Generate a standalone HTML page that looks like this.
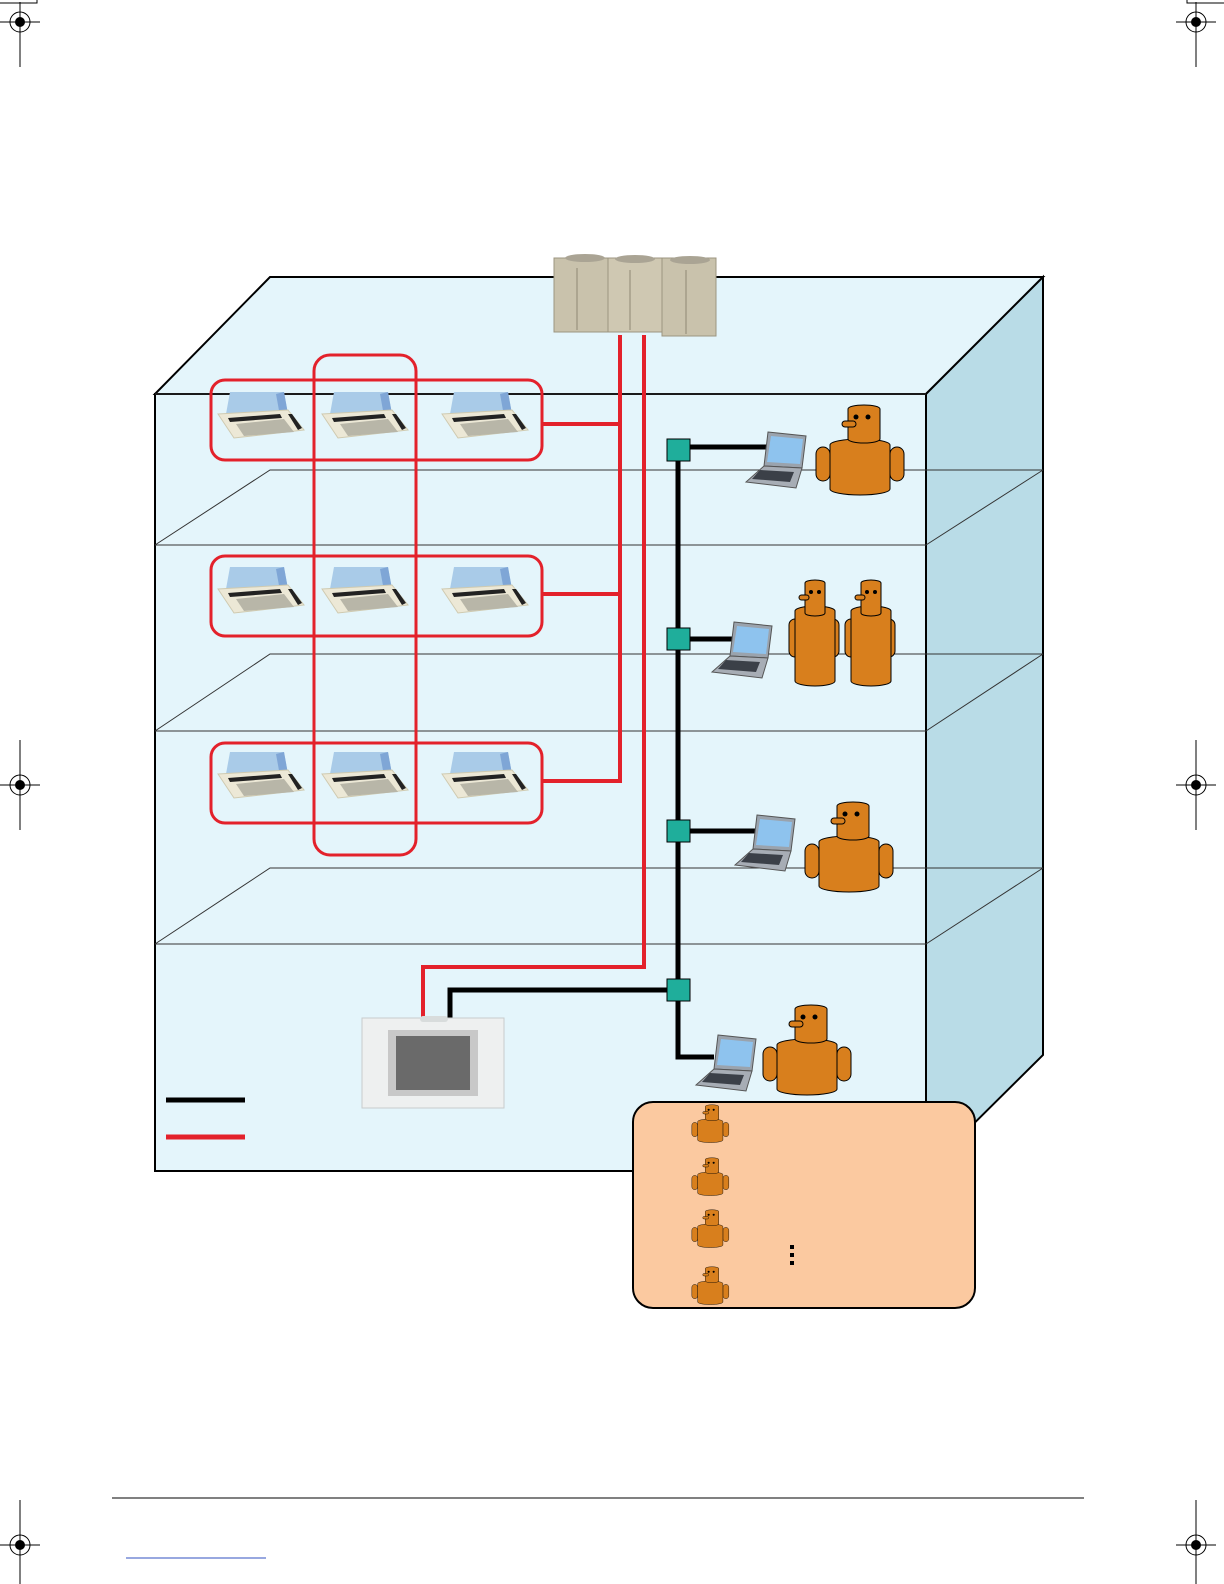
<!DOCTYPE html>
<html><head><meta charset="utf-8"><style>html,body{margin:0;padding:0;background:#fff}svg{display:block}</style></head>
<body>
<svg width="1224" height="1584" viewBox="0 0 1224 1584" xmlns="http://www.w3.org/2000/svg">
<defs>
<g id="reg"><circle r="10" fill="none" stroke="#000" stroke-width="1"/><circle r="5" fill="#000"/><line x1="-20" y1="0" x2="20" y2="0" stroke="#000" stroke-width="1"/><line x1="0" y1="-20" x2="0" y2="45" stroke="#000" stroke-width="1"/></g>
<g id="reg2"><circle r="10" fill="none" stroke="#000" stroke-width="1"/><circle r="5" fill="#000"/><line x1="-20" y1="0" x2="20" y2="0" stroke="#000" stroke-width="1"/><line x1="0" y1="-45" x2="0" y2="45" stroke="#000" stroke-width="1"/></g>
<g id="ac">
<polygon points="12,0 66,0 70,22 8,22" fill="#a9cbe8"/>
<polygon points="58,2 66,0 70,22 62,24" fill="#7fa6d6"/>
<polygon points="0,22 70,18 86,38 16,46" fill="#ece8d6" stroke="#cfcab0" stroke-width="1"/>
<polygon points="10,26 62,22 64,26 12,30" fill="#222"/>
<polygon points="70,22 74,22 84,36 80,38" fill="#222"/>
<polygon points="18,32 66,27 76,40 26,44" fill="#b8b6a8"/>
</g>
<g id="lap">
<polygon points="22,0 60,4 56,36 18,34" fill="#9aa3ad" stroke="#555" stroke-width="1"/>
<polygon points="25,4 57,7 54,32 21,30" fill="#8ec3ee"/>
<polygon points="18,34 56,36 50,56 0,50" fill="#a7adb5" stroke="#555" stroke-width="1"/>
<polygon points="14,38 48,40 44,50 6,47" fill="#3b4048"/>
</g>
<g id="man">
<rect x="-48" y="20" width="14" height="34" rx="7" fill="#d87f1d" stroke="#000" stroke-width="1"/>
<rect x="26" y="20" width="14" height="34" rx="7" fill="#d87f1d" stroke="#000" stroke-width="1"/>
<path d="M-34,18 a30,6 0 0 1 60,0 v44 a30,6 0 0 1 -60,0 z" fill="#d87f1d" stroke="#000" stroke-width="1"/>
<path d="M-16,-18 a16,4 0 0 1 32,0 v30 a16,4 0 0 1 -32,0 z" fill="#d87f1d" stroke="#000" stroke-width="1"/>
<rect x="-22" y="-6" width="14" height="6" rx="3" fill="#d87f1d" stroke="#000" stroke-width="1"/>
<circle cx="-8" cy="-10" r="2.5"/><circle cx="4" cy="-10" r="2.5"/>
</g>
<g id="tall">
<rect x="-26" y="24" width="12" height="38" rx="6" fill="#d87f1d" stroke="#000" stroke-width="1"/>
<rect x="12" y="24" width="12" height="38" rx="6" fill="#d87f1d" stroke="#000" stroke-width="1"/>
<path d="M-20,16 a20,5 0 0 1 40,0 v70 a20,5 0 0 1 -40,0 z" fill="#d87f1d" stroke="#000" stroke-width="1"/>
<path d="M-10,-12 a10,3 0 0 1 20,0 v30 a10,3 0 0 1 -20,0 z" fill="#d87f1d" stroke="#000" stroke-width="1"/>
<rect x="-16" y="0" width="10" height="5" rx="2.5" fill="#d87f1d" stroke="#000" stroke-width="1"/>
<circle cx="-4" cy="-3" r="2"/><circle cx="4" cy="-3" r="2"/>
</g>
</defs>

<path d="M0,3 H37 V0" fill="none" stroke="#000"/>
<path d="M1224,3 H1187 V0" fill="none" stroke="#000"/>
<use href="#reg" x="20" y="22"/><use href="#reg" x="1196" y="22"/>
<use href="#reg2" x="20" y="785"/><use href="#reg2" x="1196" y="785"/>
<g transform="translate(20,1545)"><circle r="10" fill="none" stroke="#000"/><circle r="5"/><line x1="-20" y1="0" x2="20" y2="0" stroke="#000"/><line x1="0" y1="-45" x2="0" y2="39" stroke="#000"/></g>
<g transform="translate(1196,1545)"><circle r="10" fill="none" stroke="#000"/><circle r="5"/><line x1="-20" y1="0" x2="20" y2="0" stroke="#000"/><line x1="0" y1="-45" x2="0" y2="39" stroke="#000"/></g>
<line x1="112" y1="1498" x2="1084" y2="1498" stroke="#000" stroke-width="1"/>
<line x1="126" y1="1558" x2="266" y2="1558" stroke="#3050c0" stroke-width="1"/>

<polygon points="155,394 270,277 1043,277 926,394" fill="#e4f5fb" stroke="#000" stroke-width="2"/>
<polygon points="926,394 1043,277 1043,1055 926,1171" fill="#b9dce7" stroke="#000" stroke-width="2"/>
<rect x="155" y="394" width="771" height="777" fill="#e4f5fb" stroke="#000" stroke-width="2"/>
<g stroke="#333" stroke-width="1" fill="none">
<line x1="155" y1="394" x2="926" y2="394"/>
<polyline points="155,545 270,470 1043,470"/><line x1="155" y1="545" x2="926" y2="545"/><line x1="926" y1="545" x2="1043" y2="470"/>
<polyline points="155,731 270,654 1043,654"/><line x1="155" y1="731" x2="926" y2="731"/><line x1="926" y1="731" x2="1043" y2="654"/>
<polyline points="155,944 270,868 1043,868"/><line x1="155" y1="944" x2="926" y2="944"/><line x1="926" y1="944" x2="1043" y2="868"/>
</g>

<g>
<rect x="554" y="258" width="54" height="74" fill="#c9c2ac" stroke="#9c9580"/>
<rect x="608" y="258" width="54" height="74" fill="#cfc8b2" stroke="#9c9580"/>
<rect x="662" y="258" width="54" height="78" fill="#c9c2ac" stroke="#9c9580"/>
<ellipse cx="585" cy="258" rx="20" ry="4" fill="#aaa494"/><ellipse cx="635" cy="259" rx="20" ry="4" fill="#aaa494"/><ellipse cx="690" cy="260" rx="20" ry="4" fill="#aaa494"/>
<g stroke="#8f8874"><line x1="577" y1="268" x2="577" y2="330"/><line x1="630" y1="270" x2="630" y2="330"/><line x1="686" y1="270" x2="686" y2="334"/></g>
</g>

<g fill="none" stroke="#e3212b" stroke-width="3">
<rect x="211" y="380" width="331" height="80" rx="14"/>
<rect x="211" y="556" width="331" height="80" rx="14"/>
<rect x="211" y="743" width="331" height="80" rx="14"/>
<rect x="314" y="355" width="102" height="500" rx="16"/>
</g>
<g fill="none" stroke="#e3212b" stroke-width="4">
<polyline points="542,424 620,424"/><polyline points="542,594 620,594"/><polyline points="542,781 620,781 620,335"/>
<polyline points="644,335 644,967 423,967 423,1018"/>
</g>

<use href="#ac" x="218" y="392"/><use href="#ac" x="322" y="392"/><use href="#ac" x="442" y="392"/>
<use href="#ac" x="218" y="567"/><use href="#ac" x="322" y="567"/><use href="#ac" x="442" y="567"/>
<use href="#ac" x="218" y="752"/><use href="#ac" x="322" y="752"/><use href="#ac" x="442" y="752"/>

<g fill="none" stroke="#000" stroke-width="5">
<polyline points="678,450 678,1057 714,1057"/>
<line x1="690" y1="447" x2="772" y2="447"/>
<line x1="690" y1="639" x2="742" y2="639"/>
<line x1="690" y1="831" x2="762" y2="831"/>
<polyline points="667,990 450,990 450,1018"/>
</g>
<g fill="#1fae9b" stroke="#000" stroke-width="1">
<rect x="667" y="439" width="23" height="22"/><rect x="667" y="628" width="23" height="22"/>
<rect x="667" y="820" width="23" height="22"/><rect x="667" y="979" width="23" height="22"/>
</g>

<use href="#lap" x="746" y="432"/><use href="#lap" x="712" y="622"/><use href="#lap" x="735" y="815"/><use href="#lap" x="696" y="1035"/>
<use href="#man" x="864" y="427"/>
<use href="#tall" x="815" y="595"/><use href="#tall" x="871" y="595"/>
<use href="#man" x="853" y="824"/>
<use href="#man" x="811" y="1027"/>

<rect x="362" y="1018" width="142" height="90" fill="#eef0f0" stroke="#c8cccc"/>
<rect x="388" y="1030" width="90" height="66" fill="#c8c8c8"/>
<rect x="396" y="1036" width="74" height="54" fill="#6a6a6a"/>
<rect x="420" y="1016" width="28" height="6" rx="3" fill="#d8dcdc"/>

<line x1="166" y1="1100" x2="245" y2="1100" stroke="#000" stroke-width="5"/>
<line x1="166" y1="1137" x2="245" y2="1137" stroke="#e3212b" stroke-width="5"/>

<rect x="633" y="1102" width="342" height="206" rx="20" fill="#fbc9a0" stroke="#000" stroke-width="2"/>
<g transform="translate(712,1114) scale(0.42)"><use href="#man"/></g>
<g transform="translate(712,1167) scale(0.42)"><use href="#man"/></g>
<g transform="translate(712,1219) scale(0.42)"><use href="#man"/></g>
<g transform="translate(712,1276) scale(0.42)"><use href="#man"/></g>
<rect x="790" y="1245" width="4" height="4"/><rect x="790" y="1253" width="4" height="4"/><rect x="790" y="1261" width="4" height="4"/>
</svg>
</body></html>
